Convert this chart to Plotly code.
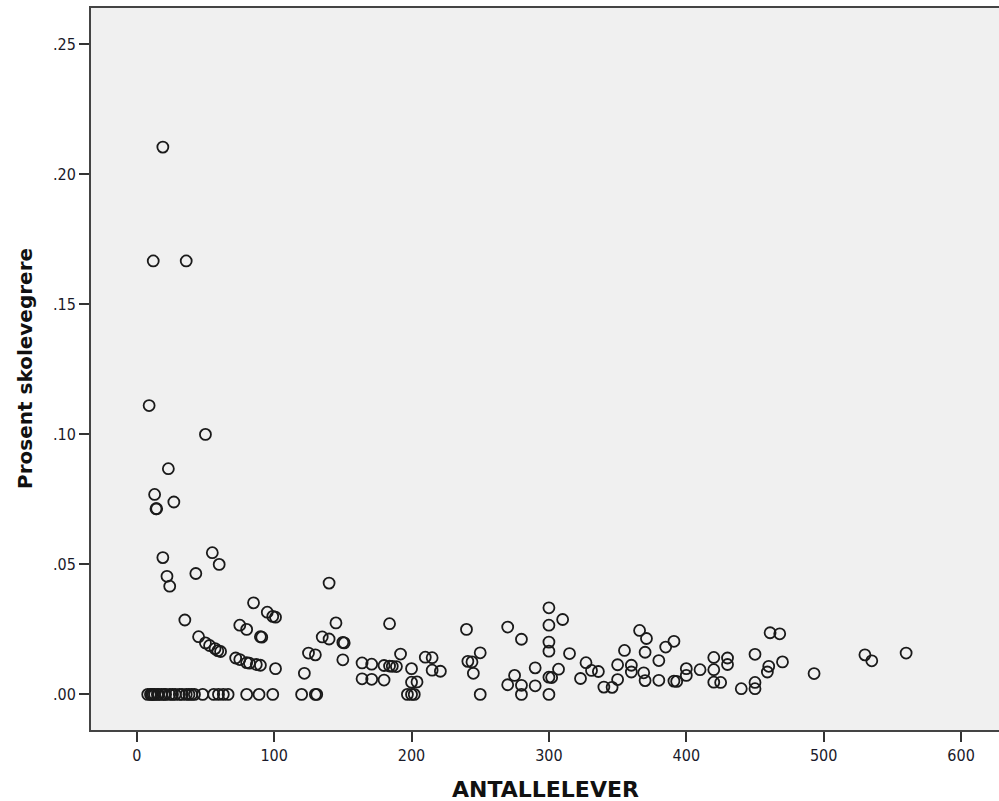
import plotly.graph_objects as go

# ANTALLELEVER (number of pupils) and Prosent skolevegrere (share)
antall_elever = [
    19, 12, 36, 9, 50, 23, 13, 14, 14.5, 27, 19, 22, 24, 43, 55, 60, 35,
    45, 50, 53, 57, 59, 61, 85, 95, 99, 101, 75, 80, 90, 91, 72, 75, 80, 82, 87, 90, 101,
    8, 10, 11, 12, 13, 15, 16, 18, 20, 21, 24, 26, 28, 31, 33, 36, 38, 40, 42,
    48, 56, 59.5, 63, 66.5, 80, 89, 99,
    140, 145, 135, 140, 150, 151, 150, 125, 130, 122, 120, 130, 131,
    184, 164, 171, 180, 184, 186, 189, 164, 171, 180, 192, 200, 200, 204, 197, 200, 202,
    210, 215, 215, 221, 240, 241, 244, 250, 245, 250, 270, 270,
    280, 300, 310, 300, 300, 300, 315, 290, 275, 280, 280, 290, 300, 302, 307, 300,
    323, 327, 331, 336, 340, 346, 350, 350, 355, 360, 360, 366, 371, 370, 369, 370,
    380, 380, 385, 391, 391, 393, 400, 400, 410, 420, 420, 420, 425, 430, 430,
    461, 468, 450, 440, 450, 450, 460, 459, 470, 493, 530, 535, 560,
]
prosent_skolevegrere = [
    0.2105, 0.1667, 0.1667, 0.1111, 0.1000, 0.0868, 0.0769, 0.0714, 0.0714, 0.0740, 0.0526, 0.0454, 0.0416, 0.0465, 0.0545, 0.0500, 0.0286,
    0.0222, 0.0198, 0.0188, 0.0176, 0.0168, 0.0165, 0.0352, 0.0316, 0.0300, 0.0297, 0.0266, 0.0250, 0.0222, 0.0220, 0.0140, 0.0134, 0.0122, 0.0120, 0.0115, 0.0112, 0.0099,
    0, 0, 0, 0, 0, 0, 0, 0, 0, 0, 0, 0, 0, 0, 0, 0, 0, 0, 0,
    0, 0, 0, 0, 0, 0, 0, 0,
    0.0428, 0.0275, 0.0221, 0.0213, 0.0200, 0.0198, 0.0133, 0.0159, 0.0152, 0.0081, 0, 0, 0,
    0.0272, 0.0121, 0.0116, 0.0111, 0.0109, 0.0108, 0.0107, 0.0060, 0.0058, 0.0055, 0.0155, 0.0099, 0.0047, 0.0048, 0, 0, 0,
    0.0143, 0.0141, 0.0093, 0.0089, 0.0250, 0.0127, 0.0125, 0.0160, 0.0081, 0, 0.0259, 0.0037,
    0.0212, 0.0333, 0.0288, 0.0266, 0.0201, 0.0166, 0.0157, 0.0102, 0.0073, 0.0035, 0, 0.0033, 0.0066, 0.0065, 0.0097, 0,
    0.0061, 0.0122, 0.0092, 0.0088, 0.0028, 0.0027, 0.0057, 0.0114, 0.0169, 0.0112, 0.0086, 0.0246, 0.0215, 0.0162, 0.0083, 0.0053,
    0.0130, 0.0054, 0.0182, 0.0204, 0.0051, 0.0050, 0.0099, 0.0073, 0.0095, 0.0142, 0.0095, 0.0047, 0.0046, 0.0140, 0.0115,
    0.0237, 0.0233, 0.0154, 0.0022, 0.0046, 0.0022, 0.0108, 0.0086, 0.0125, 0.0080, 0.0152, 0.0129, 0.0159,
]

x_ticks = [0, 100, 200, 300, 400, 500, 600]
y_ticks = [0.00, 0.05, 0.10, 0.15, 0.20, 0.25]
y_tick_labels = [".00", ".05", ".10", ".15", ".20", ".25"]

fig = go.Figure()
fig.add_trace(go.Scatter(
    x=antall_elever, y=prosent_skolevegrere, mode="markers",
    marker=dict(symbol="circle-open", size=11, color="#1a1a1a", line=dict(width=1.8)),
    showlegend=False, hoverinfo="x+y",
))

tick_font = dict(family="DejaVu Sans Condensed", size=16, color="#1a1a2a")
fig.update_layout(
    width=999, height=801,
    margin=dict(l=91, r=0, t=8, b=71),
    paper_bgcolor="white", plot_bgcolor="#F0F0F0",
    xaxis=dict(
        range=[-33.3, 627.6], tickvals=x_ticks, ticks="outside", ticklen=10, tickwidth=1.5,
        tickcolor="#333", showgrid=False, zeroline=False, showline=True, linecolor="#444",
        linewidth=2, mirror=True, tickfont=tick_font, automargin=False,
    ),
    yaxis=dict(
        range=[-0.0137, 0.264], tickvals=y_ticks, ticktext=y_tick_labels, ticks="outside",
        ticklen=10, tickwidth=1.5, tickcolor="#333", showgrid=False, zeroline=False,
        showline=True, linecolor="#444", linewidth=2, tickfont=tick_font, automargin=False,
    ),
    annotations=[
        dict(text="ANTALLELEVER", xref="paper", yref="paper", x=0.5, y=0, yshift=-59,
             xanchor="center", yanchor="middle", showarrow=False,
             font=dict(family="DejaVu Sans", size=22, color="#111", weight="bold")),
        dict(text="Prosent skolevegrere", xref="paper", yref="paper", x=0, xshift=-66, y=0.5,
             xanchor="center", yanchor="middle", textangle=-90, showarrow=False,
             font=dict(family="DejaVu Sans", size=20, color="#111", weight="bold")),
    ],
)

fig.write_html(
    "out.html",
    config={"displayModeBar": False},
    post_script="document.body.style.margin='0';document.body.style.overflow='hidden';",
)
